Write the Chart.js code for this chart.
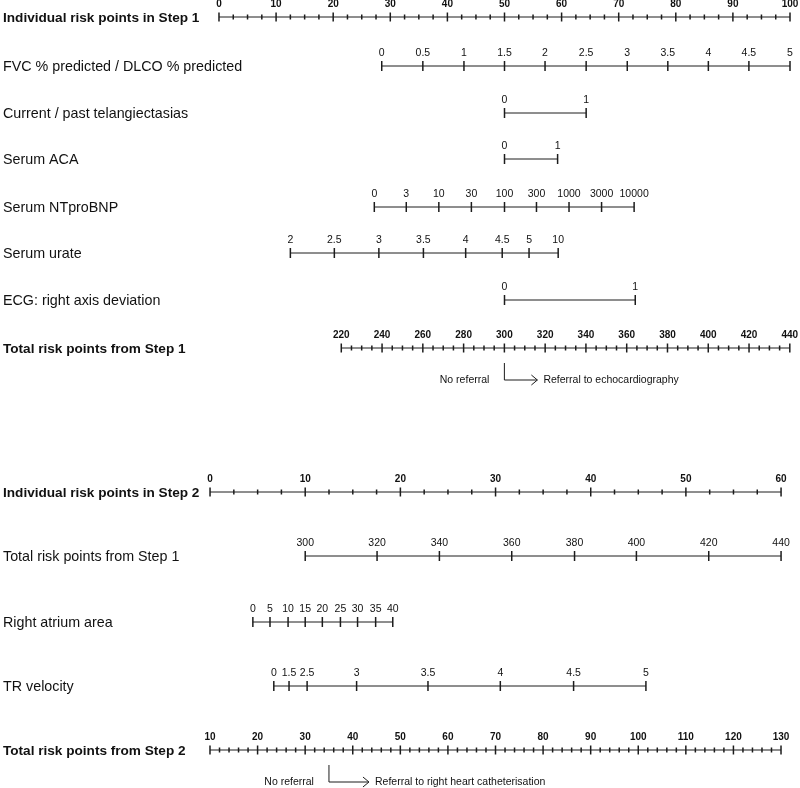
<!DOCTYPE html>
<html>
<head>
<meta charset="utf-8">
<title>Nomogram</title>
<script src="https://cdn.jsdelivr.net/npm/chart.js@4.4.1/dist/chart.umd.min.js"></script>
<style>
  html, body { margin: 0; padding: 0; background: #fff; }
  #wrap { width: 800px; height: 788px; position: relative; }
</style>
</head>
<body>
<div id="wrap"><canvas id="nomogram"></canvas></div>
<script>
// ---- Step 1 ----
const step1PointLabels = [0, 10, 20, 30, 40, 50, 60, 70, 80, 90, 100];
const step1PointMinor = 2.5;

const fvcLabels = ['0', '0.5', '1', '1.5', '2', '2.5', '3', '3.5', '4', '4.5', '5'];
const fvcPoints = [28.5, 35.7, 42.9, 50.0, 57.1, 64.3, 71.5, 78.6, 85.7, 92.8, 100];

const telangLabels = ['0', '1'];
const telangPoints = [50, 64.3];

const acaLabels = ['0', '1'];
const acaPoints = [50, 59.3];

const bnpLabels = ['0', '3', '10', '30', '100', '300', '1000', '3000', '10000'];
const bnpPoints = [27.2, 32.8, 38.5, 44.2, 50.0, 55.6, 61.3, 67.0, 72.7];

const urateLabels = ['2', '2.5', '3', '3.5', '4', '4.5', '5', '10'];
const uratePoints = [12.5, 20.2, 28.0, 35.8, 43.2, 49.6, 54.3, 59.4];

const ecgLabels = ['0', '1'];
const ecgPoints = [50, 72.9];

const total1Labels = [220, 240, 260, 280, 300, 320, 340, 360, 380, 400, 420, 440];
const total1Minor = 5;
const step1Cutoff = 300;

// ---- Step 2 ----
const step2PointLabels = [0, 10, 20, 30, 40, 50, 60];
const step2PointMinor = 2.5;

const fromStep1Labels = ['300', '320', '340', '360', '380', '400', '420', '440'];
const fromStep1Points = [10.0, 17.55, 24.1, 31.7, 38.3, 44.8, 52.4, 60.0];

const raLabels = ['0', '5', '10', '15', '20', '25', '30', '35', '40'];
const raPoints = [4.5, 6.3, 8.2, 10.0, 11.8, 13.7, 15.5, 17.4, 19.2];

const trLabels = ['0', '1.5', '2.5', '3', '3.5', '4', '4.5', '5'];
const trPoints = [6.7, 8.3, 10.2, 15.4, 22.9, 30.5, 38.2, 45.8];

const total2Labels = [10, 20, 30, 40, 50, 60, 70, 80, 90, 100, 110, 120, 130];
const total2Minor = 2;
const step2Cutoff = 35;

const FONT = '"Liberation Sans", Arial, Helvetica, sans-serif';
const INK = '#1c1c1c';

// layout of the rows (y in page pixels)
const rows = [
  { name: 'Individual risk points in Step 1', bold: true, y: 17, axis: 'p1', labels: step1PointLabels, minor: step1PointMinor },
  { name: 'FVC % predicted / DLCO % predicted', y: 66, axis: 'p1', labels: fvcLabels, values: fvcPoints },
  { name: 'Current / past telangiectasias', y: 113, axis: 'p1', labels: telangLabels, values: telangPoints },
  { name: 'Serum ACA', y: 159, axis: 'p1', labels: acaLabels, values: acaPoints },
  { name: 'Serum NTproBNP', y: 207, axis: 'p1', labels: bnpLabels, values: bnpPoints },
  { name: 'Serum urate', y: 253, axis: 'p1', labels: urateLabels, values: uratePoints },
  { name: 'ECG: right axis deviation', y: 300, axis: 'p1', labels: ecgLabels, values: ecgPoints },
  { name: 'Total risk points from Step 1', bold: true, y: 348, axis: 't1', labels: total1Labels, minor: total1Minor },
  { name: 'Individual risk points in Step 2', bold: true, y: 492, axis: 'p2', labels: step2PointLabels, minor: step2PointMinor },
  { name: 'Total risk points from Step 1', y: 556, axis: 'p2', labels: fromStep1Labels, values: fromStep1Points },
  { name: 'Right atrium area', y: 622, axis: 'p2', labels: raLabels, values: raPoints },
  { name: 'TR velocity', y: 686, axis: 'p2', labels: trLabels, values: trPoints },
  { name: 'Total risk points from Step 2', bold: true, y: 750, axis: 't2', labels: total2Labels, minor: total2Minor },
];

const arrows = [
  { axis: 't1', cutoff: step1Cutoff, y: 348, len: 33, right: 'Referral to echocardiography' },
  { axis: 't2', cutoff: step2Cutoff, y: 750, len: 40, right: 'Referral to right heart catheterisation' },
];

function rowValues(row) {
  return row.values || row.labels;
}

function buildDatasets() {
  const sets = [];
  rows.forEach(row => {
    const xs = rowValues(row);
    sets.push({
      type: 'line',
      data: [{ x: xs[0], y: row.y }, { x: xs[xs.length - 1], y: row.y }],
      xAxisID: row.axis, yAxisID: 'y',
      borderColor: INK, borderWidth: 1, pointRadius: 0,
    });
    const ticks = [];
    const radii = [];
    if (row.minor) {
      const first = xs[0], last = xs[xs.length - 1];
      for (let v = first; v <= last + 1e-6; v += row.minor) {
        const major = xs.some(m => Math.abs(m - v) < 1e-6);
        ticks.push({ x: v, y: row.y });
        radii.push(major ? 4.5 : 2.5);
      }
    } else {
      xs.forEach(v => { ticks.push({ x: v, y: row.y }); radii.push(5); });
    }
    sets.push({
      type: 'scatter',
      data: ticks,
      xAxisID: row.axis, yAxisID: 'y',
      pointStyle: 'line', rotation: 90,
      pointRadius: radii,
      pointBorderColor: INK, pointBorderWidth: 1.5,
      showLine: false,
    });
  });
  return sets;
}

const nomogramText = {
  id: 'nomogramText',
  afterDatasetsDraw(chart) {
    const { ctx } = chart;
    const yScale = chart.scales.y;
    ctx.save();
    ctx.fillStyle = '#111';
    rows.forEach(row => {
      const y = yScale.getPixelForValue(row.y);
      ctx.font = row.bold ? `bold 13.6px ${FONT}` : `14.3px ${FONT}`;
      ctx.textAlign = 'left';
      ctx.textBaseline = 'middle';
      ctx.fillText(row.name, 3, y + 1.5);

      const xScale = chart.scales[row.axis];
      const xs = rowValues(row);
      ctx.font = row.minor ? `bold 10px ${FONT}` : `10.5px ${FONT}`;
      ctx.textAlign = 'center';
      row.labels.forEach((lab, i) => {
        ctx.fillText(String(lab), xScale.getPixelForValue(xs[i]), y - 13);
      });
    });

    // referral arrows
    ctx.strokeStyle = INK;
    ctx.lineWidth = 1;
    arrows.forEach(a => {
      const x0 = chart.scales[a.axis].getPixelForValue(a.cutoff);
      const yLine = yScale.getPixelForValue(a.y);
      const yTop = yLine + 15, yBot = yLine + 32;
      const xe = x0 + a.len;
      ctx.beginPath();
      ctx.moveTo(x0, yTop);
      ctx.lineTo(x0, yBot);
      ctx.lineTo(xe, yBot);
      ctx.moveTo(xe - 6, yBot - 5);
      ctx.lineTo(xe, yBot);
      ctx.lineTo(xe - 6, yBot + 5);
      ctx.stroke();
      ctx.font = `10.5px ${FONT}`;
      ctx.textBaseline = 'middle';
      ctx.textAlign = 'right';
      ctx.fillText('No referral', x0 - 15, yBot);
      ctx.textAlign = 'left';
      ctx.fillText(a.right, xe + 6, yBot);
    });
    ctx.restore();
  }
};

new Chart(document.getElementById('nomogram'), {
  type: 'scatter',
  data: { datasets: buildDatasets() },
  options: {
    responsive: true,
    maintainAspectRatio: false,
    animation: false,
    events: [],
    layout: { padding: 0, autoPadding: false },
    plugins: { legend: { display: false }, tooltip: { enabled: false } },
    scales: {
      p1: { type: 'linear', axis: 'x', min: -38.35, max: 101.75, display: false },
      t1: { type: 'linear', axis: 'x', min: 52.6, max: 445.0, display: false },
      p2: { type: 'linear', axis: 'x', min: -22.07, max: 61.99, display: false },
      t2: { type: 'linear', axis: 'x', min: -34.13, max: 133.99, display: false },
      y: { type: 'linear', min: 0, max: 788, reverse: true, display: false },
    },
  },
  plugins: [nomogramText],
});
</script>
</body>
</html>
